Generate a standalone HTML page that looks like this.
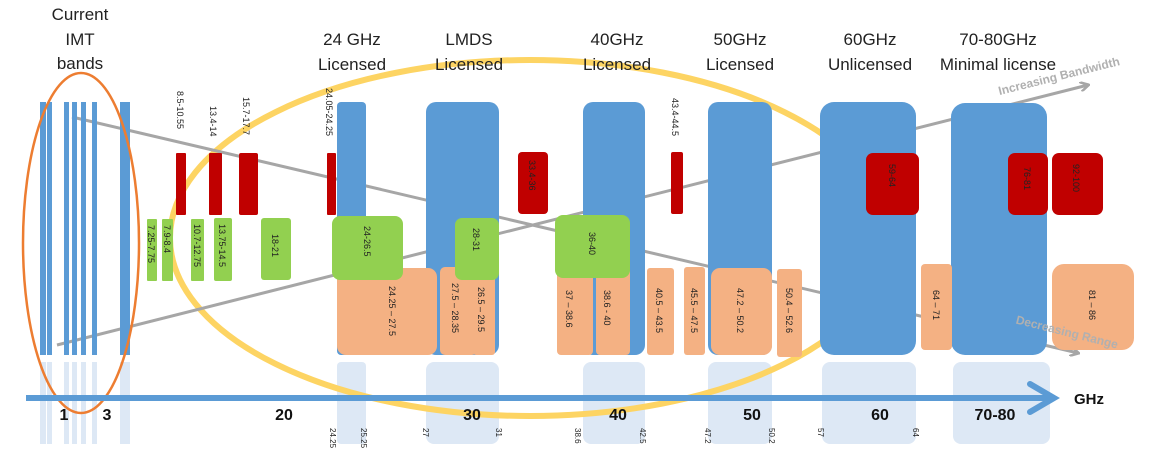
<!DOCTYPE html>
<html><head><meta charset="utf-8"><style>
html,body{margin:0;padding:0;background:#fff;width:1164px;height:464px;overflow:hidden}
svg{display:block;font-family:"Liberation Sans",sans-serif}
</style></head><body>
<svg width="1164" height="464" viewBox="0 0 1164 464" xmlns="http://www.w3.org/2000/svg">
<defs>
<marker id="ga" markerWidth="10" markerHeight="10" refX="8" refY="5" orient="auto" markerUnits="userSpaceOnUse"><path d="M0,0 L9,5 L0,10" fill="none" stroke="#a6a6a6" stroke-width="2.5"/></marker>
</defs>
<g fill="#dde8f5">
<rect x="40" y="362" width="6" height="82"/><rect x="47" y="362" width="5" height="82"/>
<rect x="64" y="362" width="5" height="82"/><rect x="72" y="362" width="5" height="82"/><rect x="81" y="362" width="5" height="82"/><rect x="92" y="362" width="5" height="82"/>
<rect x="120" y="362" width="10" height="82"/>
<rect x="337" y="362" width="29" height="82" rx="4"/>
<rect x="426" y="362" width="73" height="82" rx="8"/>
<rect x="583" y="362" width="62" height="82" rx="8"/>
<rect x="708" y="362" width="64" height="82" rx="8"/>
<rect x="822" y="362" width="94" height="82" rx="8"/>
<rect x="953" y="362" width="97" height="82" rx="8"/>
</g>
<ellipse cx="530" cy="238" rx="360" ry="178" fill="none" stroke="#fdd463" stroke-width="6"/>
<line x1="72" y1="117" x2="1078" y2="353" stroke="#a6a6a6" stroke-width="3" marker-end="url(#ga)"/>
<line x1="57" y1="345" x2="1088" y2="85" stroke="#a6a6a6" stroke-width="3" marker-end="url(#ga)"/>
<g fill="#5b9bd5">
<rect x="40" y="102" width="6" height="253"/><rect x="47" y="102" width="5" height="253"/>
<rect x="64" y="102" width="5" height="253"/><rect x="72" y="102" width="5" height="253"/><rect x="81" y="102" width="5" height="253"/><rect x="92" y="102" width="5" height="253"/>
<rect x="120" y="102" width="10" height="253"/>
<rect x="337" y="102" width="29" height="253" rx="4"/>
<rect x="426" y="102" width="73" height="253" rx="10"/>
<rect x="583" y="102" width="62" height="253" rx="10"/>
<rect x="708" y="102" width="64" height="253" rx="10"/>
<rect x="820" y="102" width="96" height="253" rx="14"/>
<rect x="951" y="103" width="96" height="252" rx="14"/>
</g>
<ellipse cx="81" cy="243" rx="58" ry="170" fill="none" stroke="#ed7d31" stroke-width="2.5"/>
<g fill="#c00000">
<rect x="176" y="153" width="10" height="62" rx="1"/>
<rect x="209" y="153" width="13" height="62" rx="1"/>
<rect x="239" y="153" width="19" height="62" rx="2"/>
<rect x="327" y="153" width="9" height="62" rx="1"/>
<rect x="518" y="152" width="30" height="62" rx="4"/>
<rect x="671" y="152" width="12" height="62" rx="2"/>
<rect x="866" y="153" width="53" height="62" rx="7"/>
<rect x="1008" y="153" width="40" height="62" rx="7"/>
<rect x="1052" y="153" width="51" height="62" rx="7"/>
</g>
<g fill="#92d050">
<rect x="147" y="219" width="10" height="62" rx="1"/>
<rect x="162" y="219" width="11" height="62" rx="1"/>
<rect x="191" y="219" width="13" height="62" rx="1"/>
<rect x="214" y="218" width="18" height="63" rx="2"/>
<rect x="261" y="218" width="30" height="62" rx="3"/>
</g>
<g fill="#f4b183">
<rect x="337" y="268" width="100" height="87" rx="9"/>
<rect x="440" y="267" width="37" height="88" rx="5"/>
<rect x="473" y="268" width="22" height="87" rx="3"/>
<rect x="557" y="268" width="36" height="87" rx="4"/>
<rect x="596" y="268" width="34" height="87" rx="4"/>
<rect x="647" y="268" width="27" height="87" rx="3"/>
<rect x="684" y="267" width="21" height="88" rx="3"/>
<rect x="711" y="268" width="61" height="87" rx="9"/>
<rect x="777" y="269" width="25" height="88" rx="3"/>
<rect x="921" y="264" width="31" height="86" rx="4"/>
<rect x="1052" y="264" width="82" height="86" rx="12"/>
</g>
<g fill="#92d050">
<rect x="332" y="216" width="71" height="64" rx="8"/>
<rect x="455" y="218" width="44" height="62" rx="7"/>
<rect x="555" y="215" width="75" height="63" rx="8"/>
</g>
<line x1="26" y1="398" x2="1050" y2="398" stroke="#5b9bd5" stroke-width="6"/>
<path d="M1030,384 L1054,398 L1030,412" fill="none" stroke="#5b9bd5" stroke-width="6" stroke-linecap="round"/>
<g font-size="17" fill="#222" text-anchor="middle">
<text x="80" y="20">Current</text><text x="80" y="45">IMT</text><text x="80" y="69">bands</text>
<text x="352" y="45">24 GHz</text><text x="352" y="70">Licensed</text>
<text x="469" y="45">LMDS</text><text x="469" y="70">Licensed</text>
<text x="617" y="45">40GHz</text><text x="617" y="70">Licensed</text>
<text x="740" y="45">50GHz</text><text x="740" y="70">Licensed</text>
<text x="870" y="45">60GHz</text><text x="870" y="70">Unlicensed</text>
<text x="998" y="45">70-80GHz</text><text x="998" y="70">Minimal license</text>
</g>
<text x="1060" y="80" font-size="12" font-weight="bold" fill="#b0b0b0" text-anchor="middle" transform="rotate(-14 1060 80)">Increasing Bandwidth</text>
<text x="1066" y="336" font-size="12" font-weight="bold" fill="#b0b0b0" text-anchor="middle" transform="rotate(14 1066 336)">Decreasing Range</text>
<g font-size="16" font-weight="bold" fill="#111" text-anchor="middle">
<text x="64" y="420">1</text><text x="107" y="420">3</text><text x="284" y="420">20</text>
<text x="472" y="420">30</text><text x="618" y="420">40</text><text x="752" y="420">50</text>
<text x="880" y="420">60</text><text x="995" y="420">70-80</text>
<text x="1089" y="404" font-size="15">GHz</text>
</g>
<g font-size="9" fill="#222">
<text transform="translate(177,91) rotate(90)">8.5-10.55</text>
<text transform="translate(210,106) rotate(90)">13.4-14</text>
<text transform="translate(243,97) rotate(90)">15.7-17.7</text>
<text transform="translate(326,88) rotate(90)">24.05-24.25</text>
<text transform="translate(672,98) rotate(90)">43.4-44.5</text>
<text transform="translate(529,160) rotate(90)">33.4-36</text>
<text transform="translate(889,164) rotate(90)">59-64</text>
<text transform="translate(1024,167) rotate(90)">76-81</text>
<text transform="translate(1073,164) rotate(90)">92-100</text>
<text transform="translate(148,225) rotate(90)">7.25-7.75</text>
<text transform="translate(164,225) rotate(90)">7.9-8.4</text>
<text transform="translate(194,224) rotate(90)">10.7-12.75</text>
<text transform="translate(219,224) rotate(90)">13.75-14.5</text>
<text transform="translate(272,234) rotate(90)">18-21</text>
<text transform="translate(364,226) rotate(90)">24-26.5</text>
<text transform="translate(473,228) rotate(90)">28-31</text>
<text transform="translate(589,232) rotate(90)">36-40</text>
<text transform="translate(389,286) rotate(90)">24.25 – 27.5</text>
<text transform="translate(452,283) rotate(90)">27.5 – 28.35</text>
<text transform="translate(478,287) rotate(90)">26.5 – 29.5</text>
<text transform="translate(566,290) rotate(90)">37 – 38.6</text>
<text transform="translate(604,290) rotate(90)">38.6 - 40</text>
<text transform="translate(656,288) rotate(90)">40.5 – 43.5</text>
<text transform="translate(691,288) rotate(90)">45.5 – 47.5</text>
<text transform="translate(737,288) rotate(90)">47.2 – 50.2</text>
<text transform="translate(786,288) rotate(90)">50.4 – 52.6</text>
<text transform="translate(933,290) rotate(90)">64 – 71</text>
<text transform="translate(1089,290) rotate(90)">81 – 86</text>
<g font-size="8">
<text transform="translate(330,428) rotate(90)">24.25</text>
<text transform="translate(361,428) rotate(90)">25.25</text>
<text transform="translate(423,428) rotate(90)">27</text>
<text transform="translate(496,428) rotate(90)">31</text>
<text transform="translate(575,428) rotate(90)">38.6</text>
<text transform="translate(640,428) rotate(90)">42.5</text>
<text transform="translate(705,428) rotate(90)">47.2</text>
<text transform="translate(769,428) rotate(90)">50.2</text>
<text transform="translate(818,428) rotate(90)">57</text>
<text transform="translate(913,428) rotate(90)">64</text>
</g>
</g>
</svg>
</body></html>
